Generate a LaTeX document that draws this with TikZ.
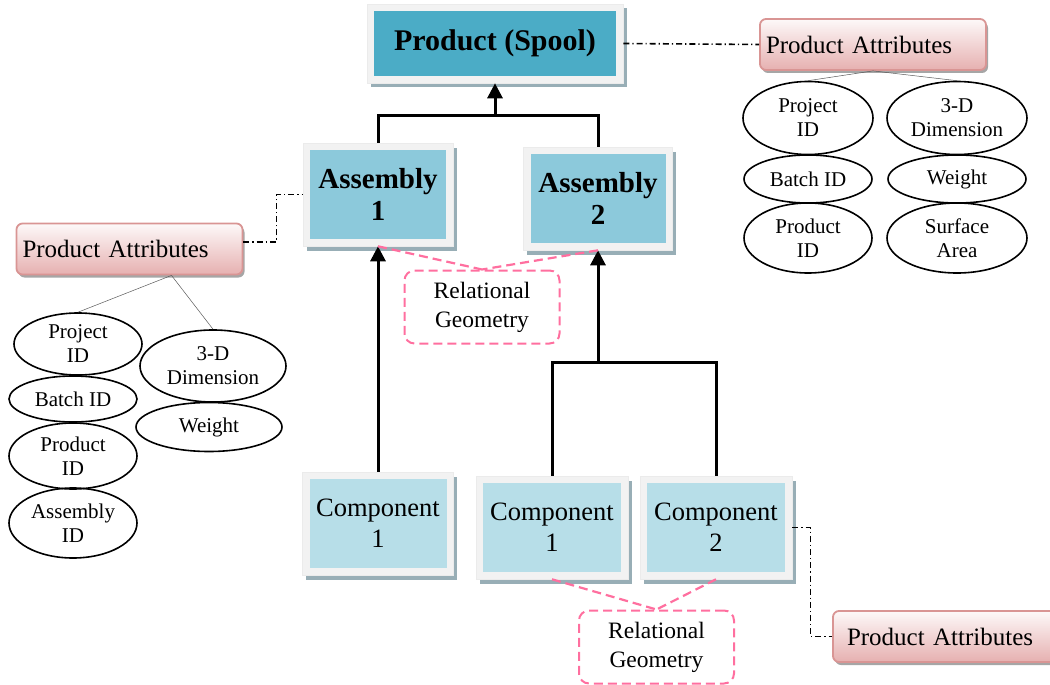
\documentclass[tikz,border=0pt]{standalone}
\usepackage{fontspec}
\setmainfont{Liberation Serif}
\usetikzlibrary{arrows.meta,shadows,shapes.geometric}

\definecolor{tealdark}{HTML}{4BACC6}
\definecolor{tealmid}{HTML}{8CC9DB}
\definecolor{teallight}{HTML}{B7DEE8}
\definecolor{framegray}{HTML}{F2F2F2}
\definecolor{boxshadow}{HTML}{98AEB6}
\definecolor{rosefill}{HTML}{E6B0B0}
\definecolor{roseline}{HTML}{D99594}
\definecolor{relpink}{HTML}{FF6F9F}

\begin{document}
\begin{tikzpicture}[x=1pt,y=-1pt,
  % framed block: light frame, coloured inner panel, grey-blue shadow
  tealbox/.style={rectangle, fill=framegray, draw=black!8, line width=0.6pt,
    inner sep=0pt, align=center,
    drop shadow={shadow xshift=3.5pt, shadow yshift=-4.5pt, fill=boxshadow, opacity=1},
    path picture={\fill[#1] ([shift={(7pt,-7pt)}]path picture bounding box.north west)
      rectangle ([shift={(-7pt,7pt)}]path picture bounding box.south east);}},
  % rounded pink attribute label
  attrbox/.style={rectangle, rounded corners=6pt, draw=roseline, line width=1.8pt,
    top color=white!92!rosefill, bottom color=rosefill,
    drop shadow={shadow xshift=2pt, shadow yshift=-3pt, fill=black!35, opacity=1},
    minimum width=226pt, minimum height=51pt, text width=214pt, align=left,
    inner xsep=4pt, font=\fontsize{25}{30}\selectfont},
  ell/.style={ellipse, draw, line width=1.6pt, inner sep=0pt, align=center,
    font=\fontsize{21}{24}\selectfont},
  relbox/.style={rectangle, draw=relpink, line width=2pt, dash pattern=on 9pt off 5pt,
    rounded corners=10pt, minimum width=155pt, minimum height=73pt, align=center,
    font=\fontsize{23.5}{29}\selectfont},
  link/.style={line width=3pt},
  tip/.style={-{Triangle[length=15pt,width=15pt]}},
  reldash/.style={draw=relpink, line width=2.2pt, dash pattern=on 9pt off 5pt},
  dashdotc/.style={line width=1.6pt, dash pattern=on 6pt off 3pt on 1.2pt off 3pt},
  thinln/.style={line width=0.5pt, draw=black!65}
]
\useasboundingbox (0,0) rectangle (1050,685);

% hierarchy blocks
\node[tealbox=tealdark, minimum width=256pt, minimum height=79pt,
  font=\bfseries\fontsize{30}{34}\selectfont] (P) at (495,43.5) {Product (Spool)};
\node[tealbox=tealmid, minimum width=150pt, minimum height=103pt,
  font=\bfseries\fontsize{29}{32}\selectfont] (A1) at (378,194.5) {Assembly\\1};
\node[tealbox=tealmid, minimum width=149pt, minimum height=103pt,
  font=\bfseries\fontsize{29}{32}\selectfont] (A2) at (598,198.5) {Assembly\\2};
\node[tealbox=teallight, minimum width=151pt, minimum height=103pt,
  font=\fontsize{26.5}{31}\selectfont] (C1L) at (378,523.5) {Component\\1};
\node[tealbox=teallight, minimum width=152pt, minimum height=103pt,
  font=\fontsize{26.5}{31}\selectfont] (C1M) at (552,527.5) {Component\\1};
\node[tealbox=teallight, minimum width=152pt, minimum height=103pt,
  font=\fontsize{26.5}{31}\selectfont] (C2) at (716,527.5) {Component\\2};

% relational geometry notes
\node[relbox] (RG1) at (482,307) {Relational\\Geometry};
\node[relbox] (RG2) at (656.5,647) {Relational\\Geometry};

% attribute labels
\node[attrbox] (PA1) at (873,44.5) {Product Attributes};
\node[attrbox] (PA2) at (129.5,249) {Product Attributes};
\node[attrbox, inner xsep=14pt, text width=198pt] (PA3) at (946,636.5) {Product Attributes};

% right attribute set
\node[ell, minimum width=130pt, minimum height=73pt] (RE1) at (808,118) {Project\\ID};
\node[ell, minimum width=128pt, minimum height=48pt] (RE2) at (808,179) {Batch ID};
\node[ell, minimum width=128pt, minimum height=70pt] (RE3) at (808,238) {Product\\ID};
\node[ell, minimum width=140pt, minimum height=73pt] (RE4) at (957,118) {3-D\\Dimension};
\node[ell, minimum width=138pt, minimum height=48pt] (RE5) at (957,179) {Weight};
\node[ell, minimum width=140pt, minimum height=70pt] (RE6) at (957,238) {Surface\\Area};

% left attribute set
\node[ell, minimum width=128pt, minimum height=62pt] (LE1) at (78,344) {Project\\ID};
\node[ell, minimum width=128pt, minimum height=46pt] (LE2) at (73,399) {Batch ID};
\node[ell, minimum width=128pt, minimum height=66pt] (LE3) at (73,456) {Product\\ID};
\node[ell, minimum width=128pt, minimum height=70pt] (LE4) at (73,523) {Assembly\\ID};
\node[ell, minimum width=146pt, minimum height=72pt] (LE5) at (213,366) {3-D\\Dimension};
\node[ell, minimum width=146pt, minimum height=49pt] (LE6) at (209,427) {Weight};

% solid hierarchy connectors
\coordinate (J1) at (495,115);
\coordinate (J2) at (598,362);
\draw[link] (A1.north) |- (J1) -| (A2.north);
\draw[link,tip] (J1) -- (P.south);
\draw[link,tip] (C1L.north) -- (A1.south);
\draw[link] (C1M.north) |- (J2) -| (C2.north);
\draw[link,tip] (J2) -- (A2.south);

% relational geometry links
\draw[reldash] (A1.south) -- (RG1.north);
\draw[reldash] (A2.south) -- (RG1.north);
\draw[reldash] (C1M.south) -- (RG2.north);
\draw[reldash] (C2.south) -- (RG2.north);

% attribute links
\draw[dashdotc] (P.east) -- (PA1.west);
\draw[dashdotc] ([yshift=7pt]PA2.east) -- ++(33,0) |- (A1.west);
\draw[dashdotc] (C2.east) -- ++(18,0) |- (PA3.west);

\draw[thinln] (PA1.south) -- (RE1.north);
\draw[thinln] (PA1.south) -- (RE4.north);
\coordinate (PA2foot) at ([xshift=42pt]PA2.south);
\draw[thinln] (PA2foot) -- (LE1.north);
\draw[thinln] (PA2foot) -- (LE5.north);
\end{tikzpicture}
\end{document}
